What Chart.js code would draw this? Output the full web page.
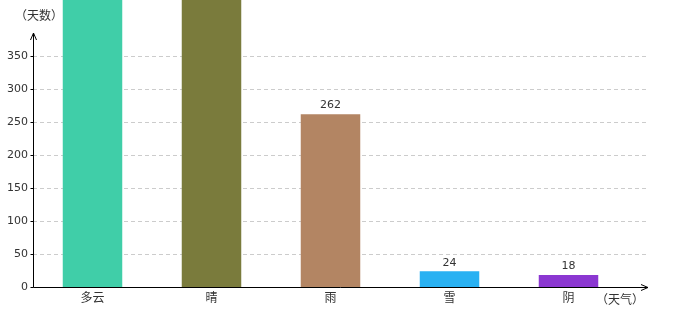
<!DOCTYPE html>
<html>
<head>
<meta charset="utf-8">
<script src="https://cdn.jsdelivr.net/npm/chart.js@4/dist/chart.umd.min.js"></script>
<style>
  html, body { margin: 0; padding: 0; background: #fff; }
  #wrap { width: 680px; height: 320px; position: relative; }
</style>
</head>
<body>
<div id="wrap"><canvas id="weatherChart"></canvas></div>
<script>
// 天气分布 (天数)
let categories = ['多云', '晴', '雨', '雪', '阴'];
let dayCounts = [520, 470, 262, 24, 18];
let barColors = ['#40cea8', '#7a7b3c', '#b38563', '#29b1f2', '#8b37d1'];
let yTicks = [0, 50, 100, 150, 200, 250, 300, 350];
let yUnit = '（天数）';
let xUnit = '（天气）';

const cjk = '"Noto Sans CJK SC", "DejaVu Sans", sans-serif';

// 坐标轴、箭头、虚线网格、数值标签
const axisPlugin = {
    id: 'axisPlugin',
    beforeDatasetsDraw(chart) {
        let ctx = chart.ctx;
        let y = chart.scales.y;
        let area = chart.chartArea;
        ctx.save();
        ctx.strokeStyle = '#cccccc';
        ctx.lineWidth = 1;
        ctx.setLineDash([4, 3]);
        yTicks.forEach(t => {
            if (t === 0) return;
            let py = Math.round(y.getPixelForValue(t)) + 0.5;
            ctx.beginPath();
            ctx.moveTo(area.left, py);
            ctx.lineTo(647, py);
            ctx.stroke();
        });
        ctx.restore();
    },
    afterDatasetsDraw(chart) {
        let ctx = chart.ctx;
        let area = chart.chartArea;
        let y0 = Math.round(chart.scales.y.getPixelForValue(0)) + 0.5;
        let x0 = area.left + 0.5;
        ctx.save();
        ctx.strokeStyle = '#000';
        ctx.lineWidth = 1;
        // y 轴
        ctx.beginPath();
        ctx.moveTo(x0, y0);
        ctx.lineTo(x0, 33);
        ctx.moveTo(x0 - 3, 40);
        ctx.lineTo(x0, 33);
        ctx.lineTo(x0 + 3, 40);
        // x 轴
        ctx.moveTo(x0, y0);
        ctx.lineTo(648, y0);
        ctx.moveTo(641, y0 - 3);
        ctx.lineTo(648, y0);
        ctx.lineTo(641, y0 + 3);
        ctx.stroke();
        // y 刻度短线
        yTicks.forEach(t => {
            let py = Math.round(chart.scales.y.getPixelForValue(t)) + 0.5;
            ctx.beginPath();
            ctx.moveTo(x0 - 3, py);
            ctx.lineTo(x0, py);
            ctx.stroke();
        });

        // 单位
        ctx.fillStyle = '#333';
        ctx.font = '12px ' + cjk;
        ctx.textBaseline = 'middle';
        ctx.textAlign = 'left';
        ctx.fillText(yUnit, 15, 15);
        ctx.fillText(xUnit, 596, 299);

        // 数值标签 (只画在图内的)
        ctx.font = '11px "DejaVu Sans", sans-serif';
        ctx.textAlign = 'center';
        ctx.textBaseline = 'bottom';
        chart.getDatasetMeta(0).data.forEach((bar, i) => {
            if (bar.y < area.top + 12) return;
            ctx.fillText(String(dayCounts[i]), bar.x, bar.y - 3);
        });
        ctx.restore();
    }
};

new Chart(document.getElementById('weatherChart'), {
    type: 'bar',
    data: {
        labels: categories,
        datasets: [{
            data: dayCounts,
            backgroundColor: barColors,
            borderWidth: 0,
            barPercentage: 0.5,
            categoryPercentage: 1.0
        }]
    },
    options: {
        responsive: true,
        maintainAspectRatio: false,
        animation: false,
        layout: { padding: { top: 0, left: 0, right: 52, bottom: 0 } },
        plugins: { legend: { display: false }, tooltip: { enabled: false } },
        scales: {
            x: {
                grid: { display: false, drawTicks: false },
                border: { display: false },
                ticks: { color: '#333', font: { size: 12, family: cjk }, padding: 3 },
                afterFit(scale) { scale.height = 33; scale.paddingLeft = 0; scale.paddingRight = 0; }
            },
            y: {
                min: 0,
                max: 435,
                grid: { display: false, drawTicks: false },
                border: { display: false },
                afterBuildTicks(scale) { scale.ticks = yTicks.map(v => ({ value: v })); },
                ticks: { color: '#333', font: { size: 11, family: '"DejaVu Sans", sans-serif' }, padding: 5 },
                afterFit(scale) { scale.width = 33; scale.paddingTop = 0; scale.paddingBottom = 0; }
            }
        }
    },
    plugins: [axisPlugin]
});
</script>
</body>
</html>
